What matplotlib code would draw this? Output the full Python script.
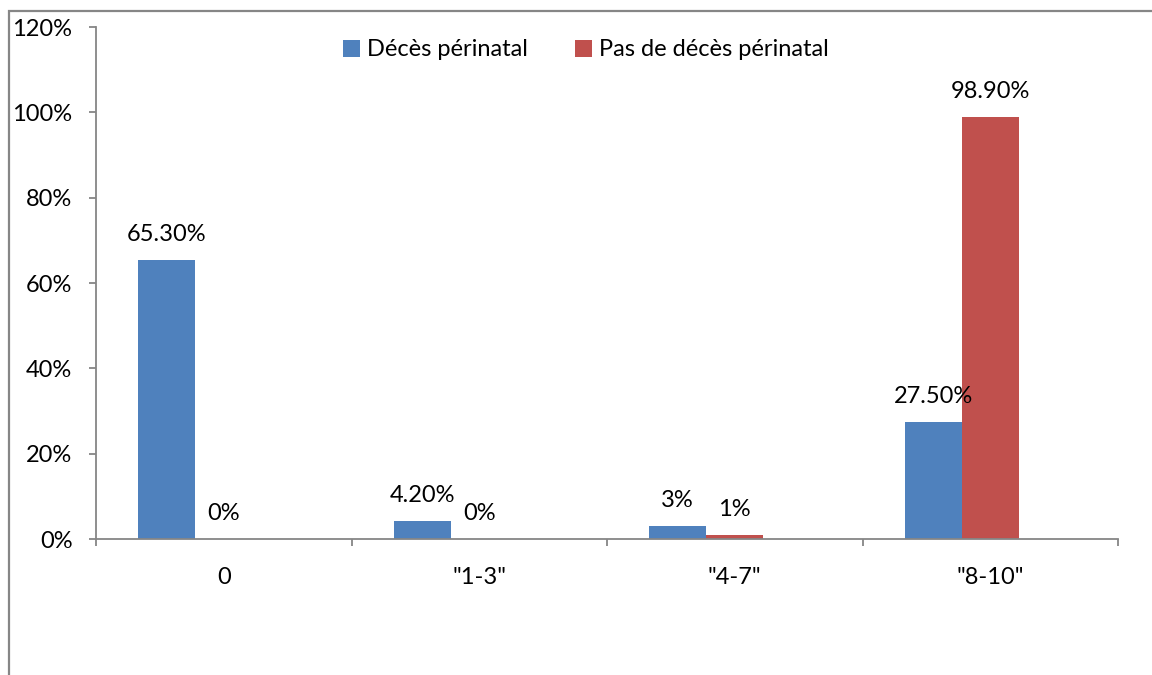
import matplotlib
matplotlib.use("Agg")
import matplotlib.pyplot as plt
from matplotlib.patches import Rectangle
from matplotlib.ticker import FixedLocator, PercentFormatter
import numpy as np

categories = ['0', '"1-3"', '"4-7"', '"8-10"']
deces = [65.3, 4.2, 3.0, 27.5]
pas_deces = [0.0, 0.0, 1.0, 98.9]
deces_labels = ['65.30%', '4.20%', '3%', '27.50%']
pas_deces_labels = ['0%', '0%', '1%', '98.90%']
series_names = ['Décès périnatal', 'Pas de décès périnatal']

plt.rcParams['font.family'] = ['Lato', 'DejaVu Sans']
BLUE = '#4F81BD'
RED = '#C0504D'
GRAY = '#868686'
FS = 17

fig = plt.figure(figsize=(11.52, 6.75), dpi=100)
# outer chart border
fig.patches.append(Rectangle((9/1152, -0.05), 1.2, (1 - 11/675) + 0.05,
                             transform=fig.transFigure, fill=False,
                             edgecolor=GRAY, linewidth=1.6, zorder=0))
ax = fig.add_axes([96/1152, 1 - 539/675, (1118 - 96)/1152, (539 - 27)/675])

x = np.arange(len(categories))
w = 0.223
# group laid out as three slots (third slot empty), as in the original chart
b1 = ax.bar(x - w, deces, w, color=BLUE, label=series_names[0], zorder=2)
b2 = ax.bar(x, pas_deces, w, color=RED, label=series_names[1], zorder=2)

for bars, labs in ((b1, deces_labels), (b2, pas_deces_labels)):
    for rect, lab in zip(bars, labs):
        ax.annotate(lab, (rect.get_x() + rect.get_width()/2, rect.get_height()),
                    xytext=(0, 15), textcoords='offset pixels', ha='center', va='bottom',
                    fontsize=FS, color='#000000', zorder=5)

ax.set_xlim(-0.5, len(categories) - 0.5)
ax.set_ylim(0, 120)
ax.set_yticks(np.arange(0, 121, 20))
ax.yaxis.set_major_formatter(PercentFormatter(decimals=0))
ax.set_xticks(x)
ax.set_xticklabels(categories)
ax.xaxis.set_minor_locator(FixedLocator(np.arange(-0.5, len(categories), 1.0)))
ax.tick_params(axis='x', which='major', length=0, pad=20, labelsize=FS)
ax.tick_params(axis='x', which='minor', length=5, width=1.3, color=GRAY, direction='out')
ax.tick_params(axis='y', length=5, width=1.3, color=GRAY, pad=12, labelsize=FS)

for s in ['top', 'right']:
    ax.spines[s].set_visible(False)
for s in ['left', 'bottom']:
    ax.spines[s].set_color(GRAY)
    ax.spines[s].set_linewidth(1.3)

ax.legend(loc='center', bbox_to_anchor=(586/1152, 1 - 50/675), bbox_transform=fig.transFigure,
          ncol=2, frameon=False, fontsize=FS, handlelength=0.7, handleheight=0.7,
          handletextpad=0.3, columnspacing=2.0)

fig.savefig('out.png', dpi=100)
